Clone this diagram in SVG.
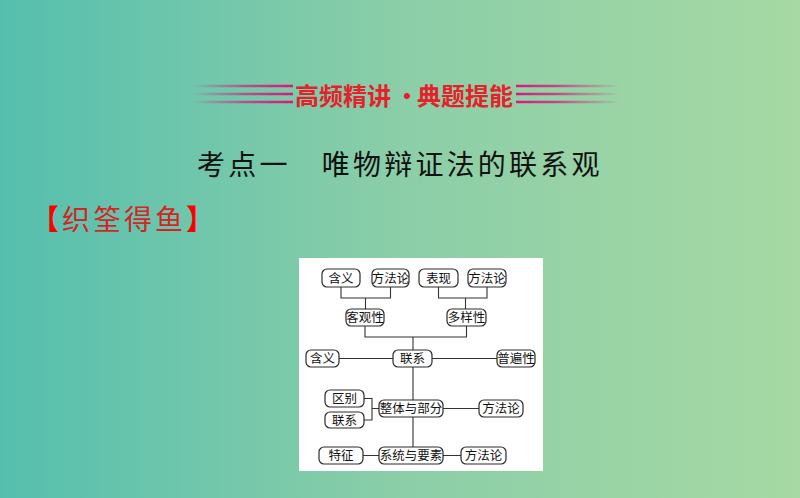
<svg xmlns="http://www.w3.org/2000/svg" width="800" height="498" viewBox="0 0 800 498">
<defs>
<linearGradient id="bg" x1="0" y1="0" x2="1" y2="0">
<stop offset="0" stop-color="#55bfae"/>
<stop offset="0.5" stop-color="#8bcea8"/>
<stop offset="1" stop-color="#a6d9a3"/>
</linearGradient>
<linearGradient id="stripeL" x1="190" y1="0" x2="292" y2="0" gradientUnits="userSpaceOnUse">
<stop offset="0" stop-color="#d0157a" stop-opacity="0"/>
<stop offset="0.6" stop-color="#d0157a" stop-opacity="0.7"/>
<stop offset="1" stop-color="#e0157f" stop-opacity="1"/>
</linearGradient>
<linearGradient id="stripeR" x1="620" y1="0" x2="517" y2="0" gradientUnits="userSpaceOnUse">
<stop offset="0" stop-color="#d0157a" stop-opacity="0"/>
<stop offset="0.6" stop-color="#d0157a" stop-opacity="0.7"/>
<stop offset="1" stop-color="#e0157f" stop-opacity="1"/>
</linearGradient>
<style>
.cjk{font-family:"Noto Sans CJK SC","Noto Sans",sans-serif}
.ttl{font-family:"Noto Sans CJK SC","Noto Sans",sans-serif;font-size:24px;font-weight:700;fill:#e3222c}
.box{fill:#ffffff;stroke:#2a2a2a;stroke-width:1.2}
.lbl{font-family:"Noto Sans CJK SC","Noto Sans",sans-serif;font-size:12.5px;fill:#111;text-anchor:middle}
.con{fill:none;stroke:#333;stroke-width:1.1}
</style>
</defs>
<rect width="800" height="498" fill="url(#bg)"/>

<g id="banner">
<g stroke-width="2.5">
<line x1="190" y1="86" x2="293" y2="86" stroke="url(#stripeL)"/>
<line x1="190" y1="94" x2="293" y2="94" stroke="url(#stripeL)"/>
<line x1="190" y1="102" x2="293" y2="102" stroke="url(#stripeL)"/>
<line x1="516" y1="86" x2="620" y2="86" stroke="url(#stripeR)"/>
<line x1="516" y1="94" x2="620" y2="94" stroke="url(#stripeR)"/>
<line x1="516" y1="102" x2="620" y2="102" stroke="url(#stripeR)"/>
</g>
<text class="ttl" x="295" y="105">高频精讲</text>
<text class="ttl" x="407" y="105" text-anchor="middle">·</text>
<text class="ttl" x="417" y="105">典题提能</text>
</g>

<text id="heading" class="cjk" x="197" y="175" font-size="28" letter-spacing="3.2" fill="#111">考点一　唯物辩证法的联系观</text>
<text id="subheading" class="cjk" x="31" y="230" font-size="28" letter-spacing="3" fill="#d42424"><tspan fill="#ff0000" font-weight="700">【</tspan>织筌得鱼<tspan fill="#ff0000" font-weight="700">】</tspan></text>

<rect id="panel" x="299" y="258" width="244" height="213" fill="#ffffff"/>

<g id="connectors">
<path class="con" d="M341,287 V298 H390.5 V287 M365.5,298 V309"/>
<path class="con" d="M438.5,287 V298 H487 V287 M465.5,298 V309"/>
<path class="con" d="M365,326 V337 H466.5 V326 M413,337 V350"/>
<path class="con" d="M339,358.5 H393 M432,358.5 H497"/>
<path class="con" d="M413,367 V400 M413,417 V447"/>
<path class="con" d="M364,398.5 H372 V420 H364 M372,408.5 H379"/>
<path class="con" d="M443,408.5 H479"/>
<path class="con" d="M363,455.5 H379 M443,455.5 H461"/>
</g>

<g id="n_hanyi1"><rect class="box" x="322" y="269" width="38" height="18" rx="5"/><text class="lbl" x="341" y="282.5">含义</text></g>
<g id="n_fangfalun1"><rect class="box" x="372" y="269" width="37" height="18" rx="5"/><text class="lbl" x="390.5" y="282.5">方法论</text></g>
<g id="n_biaoxian"><rect class="box" x="419" y="269" width="39" height="18" rx="5"/><text class="lbl" x="438.5" y="282.5">表现</text></g>
<g id="n_fangfalun2"><rect class="box" x="468" y="269" width="38" height="18" rx="5"/><text class="lbl" x="487" y="282.5">方法论</text></g>
<g id="n_keguanxing"><rect class="box" x="346" y="309" width="38" height="17" rx="5"/><text class="lbl" x="365" y="322">客观性</text></g>
<g id="n_duoyangxing"><rect class="box" x="447" y="309" width="39" height="17" rx="5"/><text class="lbl" x="466.5" y="322">多样性</text></g>
<g id="n_lianxi"><rect class="box" x="393" y="350" width="39" height="17" rx="5"/><text class="lbl" x="412.5" y="363">联系</text></g>
<g id="n_hanyi2"><rect class="box" x="306" y="350" width="33" height="17" rx="5"/><text class="lbl" x="322.5" y="363">含义</text></g>
<g id="n_pubianxing"><rect class="box" x="497" y="350" width="38" height="17" rx="5"/><text class="lbl" x="516" y="363">普遍性</text></g>
<g id="n_qubie"><rect class="box" x="325" y="390" width="39" height="17" rx="5"/><text class="lbl" x="344.5" y="403">区别</text></g>
<g id="n_lianxi2"><rect class="box" x="325" y="412" width="39" height="16" rx="5"/><text class="lbl" x="344.5" y="424.5">联系</text></g>
<g id="n_zhengtiyubufen"><rect class="box" x="379" y="400" width="64" height="17" rx="5"/><text class="lbl" x="411" y="413">整体与部分</text></g>
<g id="n_fangfalun3"><rect class="box" x="479" y="400" width="44" height="17" rx="5"/><text class="lbl" x="501" y="413">方法论</text></g>
<g id="n_tezheng"><rect class="box" x="319" y="447" width="44" height="17" rx="5"/><text class="lbl" x="341" y="460">特征</text></g>
<g id="n_xitongyuyaosu"><rect class="box" x="379" y="447" width="64" height="17" rx="5"/><text class="lbl" x="411" y="460">系统与要素</text></g>
<g id="n_fangfalun4"><rect class="box" x="461" y="447" width="45" height="17" rx="5"/><text class="lbl" x="483.5" y="460">方法论</text></g>
</svg>
